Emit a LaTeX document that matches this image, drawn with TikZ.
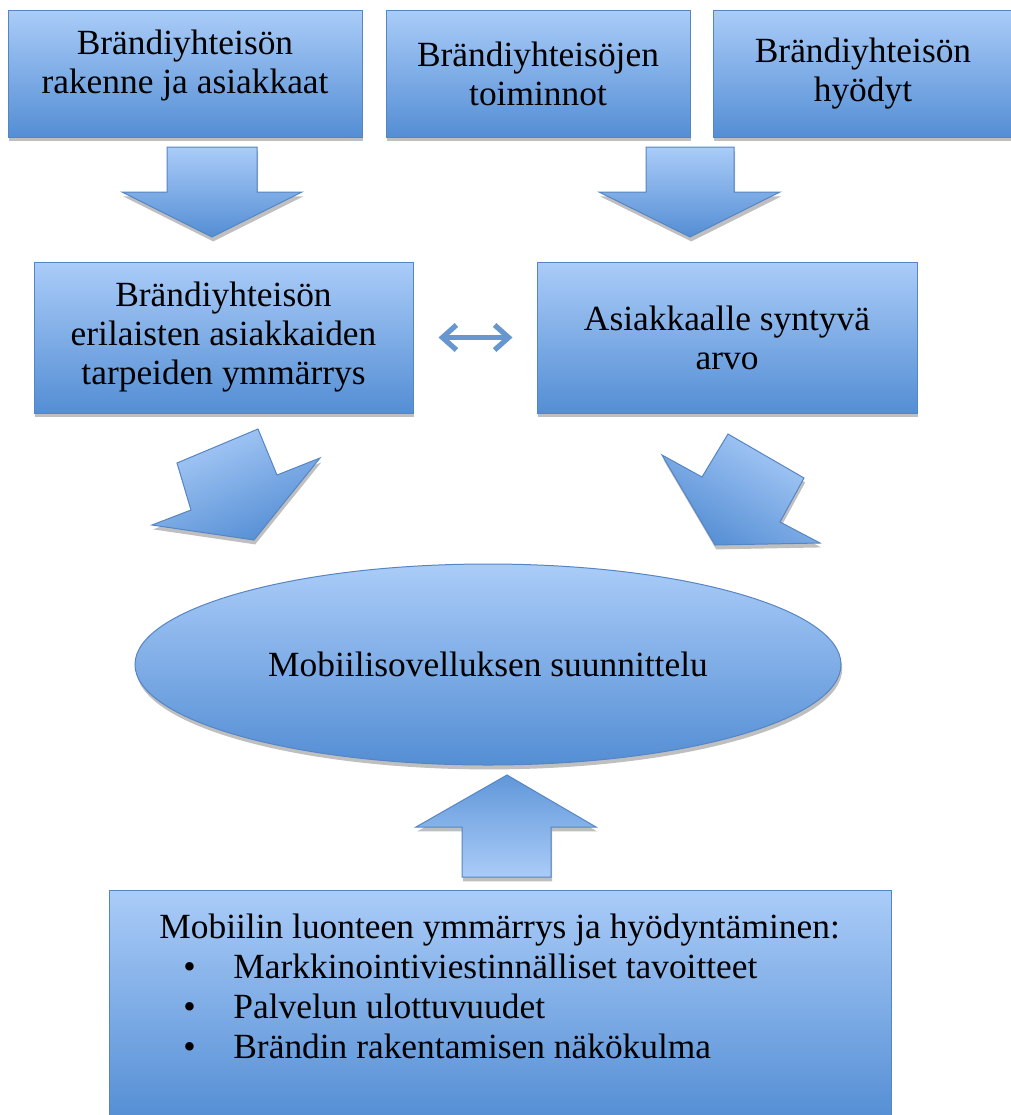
\documentclass[tikz,border=0pt]{standalone}
\usepackage{fontspec}
\setmainfont{Liberation Serif}
\usetikzlibrary{shadows,arrows.meta,shapes.geometric}
\definecolor{boxtop}{RGB}{170,204,248}
\definecolor{boxbot}{RGB}{84,142,212}
\definecolor{boxline}{RGB}{86,133,196}
\definecolor{dblc}{RGB}{104,150,206}
\begin{document}
\begin{tikzpicture}[x=0.5pt,y=-0.5pt,
  font=\fontsize{17.7}{19.5}\selectfont,
  softshadow/.style={drop shadow={shadow xshift=0.6pt, shadow yshift=-2.2pt, opacity=0.25, fill=black}},
  bluebox/.style={draw=boxline, line width=0.5pt, top color=boxtop, bottom color=boxbot,
    softshadow, inner sep=0pt, align=center},
  bluearrow/.style={draw=boxline, line width=0.5pt, top color=boxtop, bottom color=boxbot, softshadow},
  lbl/.style={inner sep=0pt, align=center},
  dblarrow/.style={draw=dblc, line width=2.6pt,
    {Straight Barb[length=7pt,width=12.5pt]}-{Straight Barb[length=7pt,width=12.5pt]}}
]
\useasboundingbox (0,0) rectangle (1011,1115);

% top row
\node[bluebox, minimum width=177pt, minimum height=63.5pt] (b1) at (185,73.5) {};
\node[lbl] (t1) at (185,65) {Brändiyhteisön\\rakenne ja asiakkaat};
\node[bluebox, minimum width=152pt, minimum height=63.5pt] (b2) at (538,73.5)
  {Brändiyhteisöjen\\toiminnot};
\node[bluebox, minimum width=150pt, minimum height=63.5pt] (b3) at (863,73.5)
  {Brändiyhteisön\\hyödyt};

% down arrows
\path[bluearrow] (167,147) -- (257,147) -- (257,192) -- (302,192) -- (212,237)
  -- (122,192) -- (167,192) -- cycle;
\path[bluearrow] (646,147) -- (734,147) -- (734,192) -- (780,192) -- (690,237)
  -- (599,192) -- (646,192) -- cycle;

% middle row
\node[bluebox, minimum width=189.5pt, minimum height=75.5pt] (m1) at (223.5,337.5)
  {Brändiyhteisön\\erilaisten asiakkaiden\\tarpeiden ymmärrys};
\node[bluebox, minimum width=190pt, minimum height=75.5pt] (m2) at (727,337.5)
  {Asiakkaalle syntyvä\\arvo};
\draw[dblarrow, shorten <=12.5pt, shorten >=12pt] (m1.east) -- (m2.west);

% bent arrows
\path[bluearrow, shading angle=23] (258,429) -- (277,475) -- (320,458) -- (254,540)
  -- (152,525) -- (191,510) -- (177,463) -- cycle;
\path[bluearrow, shading angle=-30] (728,434) -- (804,478) -- (780,522) -- (820,543)
  -- (715,545) -- (662,455) -- (702,477) -- cycle;

% ellipse
\node[bluebox, ellipse, minimum width=353pt, minimum height=100.5pt] (e) at (488,664.5)
  {Mobiilisovelluksen suunnittelu};

% up arrow
\path[bluearrow, top color=boxbot!85!boxtop, bottom color=boxtop] (462,877) -- (551,877)
  -- (551,827) -- (596,827) -- (507,775) -- (416,827) -- (462,827) -- cycle;

% bottom box
\node[bluebox, minimum width=391pt, minimum height=115pt] (bx) at (500,1005) {};
\node[lbl, align=left, anchor=north west, font=\fontsize{17.7}{20}\selectfont] (tx) at (159,914)
  {Mobiilin luonteen ymmärrys ja hyödyntäminen:\\
   \makebox[37pt][l]{\hspace*{12pt}•}Markkinointiviestinnälliset tavoitteet\\
   \makebox[37pt][l]{\hspace*{12pt}•}Palvelun ulottuvuudet\\
   \makebox[37pt][l]{\hspace*{12pt}•}Brändin rakentamisen näkökulma};
\end{tikzpicture}
\end{document}
